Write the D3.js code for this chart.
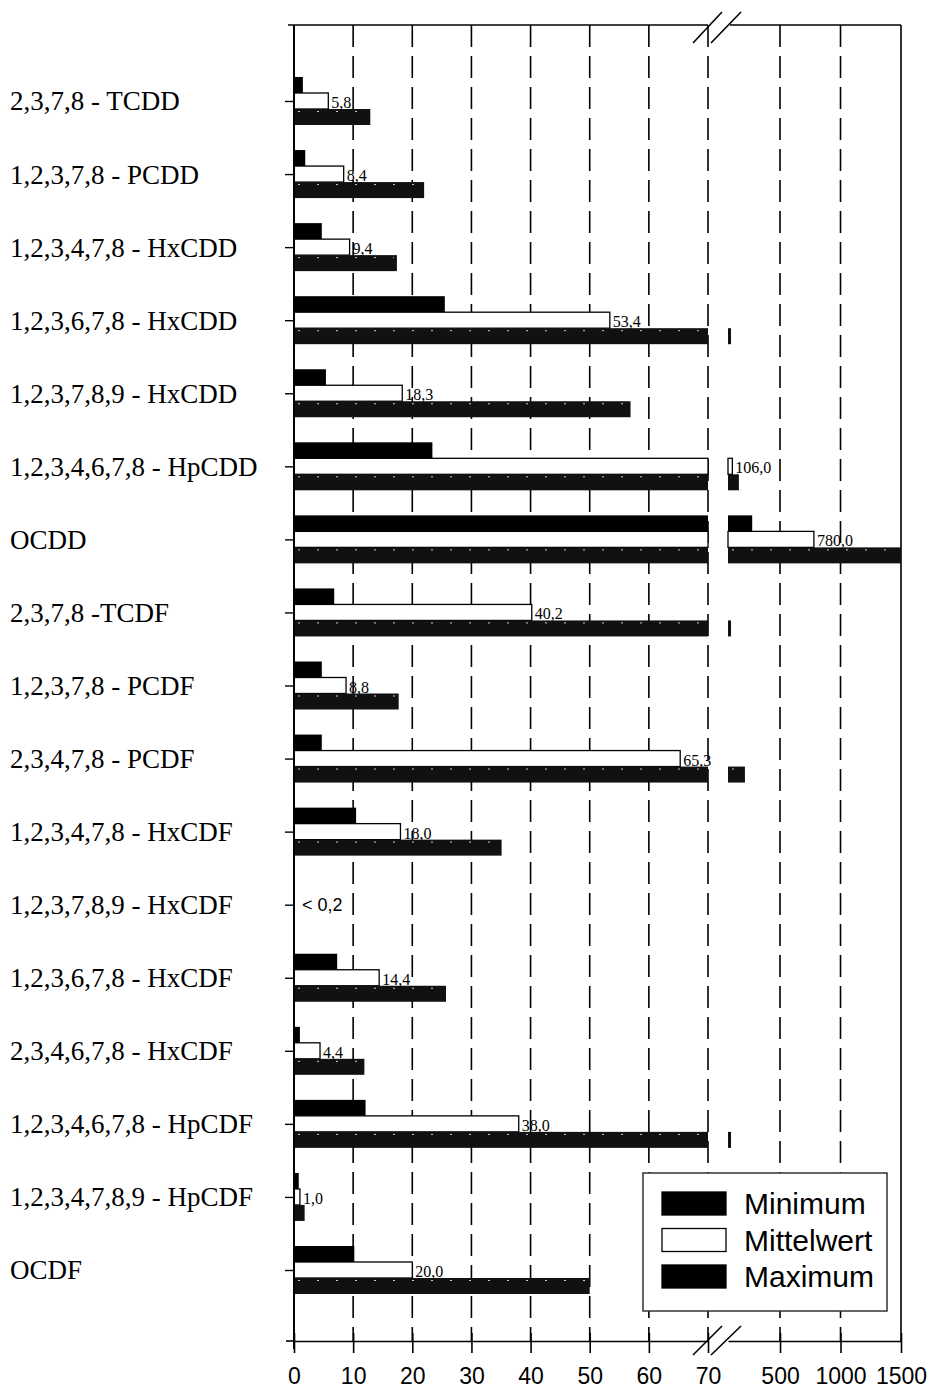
<!DOCTYPE html>
<html>
<head>
<meta charset="utf-8">
<script src="https://cdn.jsdelivr.net/npm/d3@7"></script>
<style>
  body { margin: 0; background: #fff; }
  svg { display: block; }
</style>
</head>
<body>
<div id="chart"></div>
<script>
const categories = [
  '2,3,7,8 - TCDD', '1,2,3,7,8 - PCDD', '1,2,3,4,7,8 - HxCDD', '1,2,3,6,7,8 - HxCDD',
  '1,2,3,7,8,9 - HxCDD', '1,2,3,4,6,7,8 - HpCDD', 'OCDD', '2,3,7,8 -TCDF',
  '1,2,3,7,8 - PCDF', '2,3,4,7,8 - PCDF', '1,2,3,4,7,8 - HxCDF', '1,2,3,7,8,9 - HxCDF',
  '1,2,3,6,7,8 - HxCDF', '2,3,4,6,7,8 - HxCDF', '1,2,3,4,6,7,8 - HpCDF', '1,2,3,4,7,8,9 - HpCDF',
  'OCDF'
]
const minimum    = [1.5, 1.9, 4.7, 25.5, 5.4, 23.4, 270, 6.8, 4.7, 4.7, 10.5, null, 7.3, 1.0, 12.1, 0.8, 10.2]
const mittelwert = [5.8, 8.4, 9.4, 53.4, 18.3, 106.0, 780.0, 40.2, 8.8, 65.3, 18.0, null, 14.4, 4.4, 38.0, 1.0, 20.0]
const maximum    = [12.9, 22.0, 17.4, 95, 56.9, 160, 1500, 95, 17.7, 210, 35.1, null, 25.7, 11.9, 95, 1.8, 50.0]
const seriesNames = ['Minimum', 'Mittelwert', 'Maximum']
const lowTicks = [0, 10, 20, 30, 40, 50, 60, 70]
const highTicks = [500, 1000, 1500]
const belowLimit = '< 0,2'

const w = 931, h = 1392
const yTop = 25, yBottom = 1341
const xLeft = 294, breakLeft = 708, breakRight = 728, xRight = 901

const svg = d3.select('#chart').append('svg')
  .attr('width', w)
  .attr('height', h)

/* broken x axis: two linear pieces */
const xLow = d3.scaleLinear().domain([0, 70]).range([xLeft, breakLeft])
const xHigh = d3.scaleLinear().domain([70, 1500]).range([breakRight, xRight])
const xEnd = v => v <= 70 ? xLow(v) : xHigh(v)

const y = d3.scalePoint().domain(categories).range([101, 1270])
const inner = d3.scaleBand().domain(seriesNames).range([-24, 24])

const table = categories.map((c, i) => ({
  cat: c,
  values: [minimum[i], mittelwert[i], maximum[i]]
}))

/* gridlines */
const grid = svg.append('g').attr('class', 'grid')
  .attr('stroke', '#000').attr('stroke-width', 1.6)

grid.selectAll('line.low')
  .data(lowTicks.filter(t => t > 0))
  .enter().append('line')
  .attr('x1', d => xLow(d)).attr('x2', d => xLow(d))
  .attr('y1', yTop).attr('y2', yBottom)
  .attr('stroke-dasharray', '22,9')

grid.selectAll('line.high')
  .data(highTicks)
  .enter().append('line')
  .attr('x1', d => xHigh(d)).attr('x2', d => xHigh(d))
  .attr('y1', yTop).attr('y2', yBottom)
  .attr('stroke-dasharray', d => d === 1500 ? null : '22,9')

/* top frame line with break */
svg.append('line').attr('x1', 288).attr('x2', breakLeft).attr('y1', yTop).attr('y2', yTop)
  .attr('stroke', '#000').attr('stroke-width', 1.6)
svg.append('line').attr('x1', breakRight + 2).attr('x2', xRight).attr('y1', yTop).attr('y2', yTop)
  .attr('stroke', '#000').attr('stroke-width', 1.6)

/* bars */
const bars = svg.append('g').attr('class', 'bars')

table.forEach(row => {
  row.values.forEach((v, j) => {
    if (v == null) return
    const name = seriesNames[j]
    const y0 = y(row.cat) + inner(name)
    const bh = inner.bandwidth()
    const pieces = [[xLow(0), xLow(Math.min(v, 70))]]
    if (v > 70) pieces.push([xHigh(70), xHigh(v)])
    pieces.forEach(p => {
      const r = bars.append('rect')
        .attr('x', p[0])
        .attr('y', y0)
        .attr('width', Math.max(p[1] - p[0], 0.8))
        .attr('height', bh)
      if (name === 'Mittelwert') {
        r.attr('fill', '#fff').attr('stroke', '#000').attr('stroke-width', 1.3)
      } else {
        r.attr('fill', name === 'Minimum' ? '#000' : '#111')
      }
      if (name === 'Maximum' && p[1] - p[0] > 12) {
        bars.append('line')
          .attr('x1', p[0] + 4).attr('x2', p[1] - 3)
          .attr('y1', y0 + 2.5).attr('y2', y0 + 2.5)
          .attr('stroke', '#fff').attr('stroke-width', 0.8)
          .attr('stroke-dasharray', '2,17')
      }
    })
  })
})

/* Mittelwert labels */
const fmt = d3.format('.1f')
svg.append('g').attr('class', 'labels')
  .selectAll('text')
  .data(table.filter(d => d.values[1] != null))
  .enter().append('text')
  .attr('x', d => xEnd(d.values[1]) + 3)
  .attr('y', d => y(d.cat) + 7)
  .attr('font-family', 'Liberation Serif, serif')
  .attr('font-size', 16)
  .text(d => fmt(d.values[1]).replace('.', ','))

svg.append('text')
  .attr('x', 302)
  .attr('y', y(categories[11]) + 6)
  .attr('font-family', 'Liberation Sans, Arial, sans-serif')
  .attr('font-size', 18)
  .text(belowLimit)

/* left axis */
const yAxis = d3.axisLeft(y).tickSize(9).tickSizeOuter(0).tickFormat('')
const gy = svg.append('g').attr('transform', `translate(${xLeft},0)`).call(yAxis)
gy.select('.domain').remove()
gy.selectAll('.tick line').attr('stroke-width', 1.4)
svg.append('line').attr('x1', xLeft).attr('x2', xLeft).attr('y1', yTop).attr('y2', yBottom + 8)
  .attr('stroke', '#000').attr('stroke-width', 2)

/* category labels */
svg.append('g').attr('class', 'cats')
  .selectAll('text')
  .data(categories)
  .enter().append('text')
  .attr('x', 10)
  .attr('y', d => y(d))
  .attr('dy', '0.35em')
  .attr('font-family', 'Liberation Serif, serif')
  .attr('font-size', 27)
  .text(d => d)

/* bottom axis, two pieces */
const axLow = d3.axisBottom(xLow).tickValues(lowTicks).tickSize(12).tickSizeOuter(0).tickPadding(15)
const axHigh = d3.axisBottom(xHigh).tickValues(highTicks).tickSize(12).tickSizeOuter(0).tickPadding(15)
  .tickFormat(d3.format('d'))

;[axLow, axHigh].forEach(ax => {
  const g = svg.append('g').attr('transform', `translate(0,${yBottom})`).call(ax)
  g.select('.domain').attr('stroke-width', 1.6)
  g.selectAll('.tick line').attr('y1', -8).attr('stroke-width', 1.6)
  g.selectAll('.tick text')
    .attr('font-family', 'Liberation Sans, Arial, sans-serif')
    .attr('font-size', 23)
    .attr('fill', '#000')
})
svg.append('line').attr('x1', 286).attr('x2', xLeft).attr('y1', yBottom).attr('y2', yBottom)
  .attr('stroke', '#000').attr('stroke-width', 1.6)

/* break marks */
const breaks = svg.append('g').attr('stroke', '#000').attr('stroke-width', 1.6)
;[[43, 12], [1355, 1326]].forEach(([ya, yb]) => {
  breaks.append('line').attr('x1', 693).attr('y1', ya).attr('x2', 722).attr('y2', yb)
  breaks.append('line').attr('x1', 711).attr('y1', ya).attr('x2', 741).attr('y2', yb)
})

/* legend */
const legend = svg.append('g').attr('class', 'legend')
legend.append('rect')
  .attr('x', 643).attr('y', 1173).attr('width', 244).attr('height', 138)
  .attr('fill', '#fff').attr('stroke', '#333').attr('stroke-width', 1.5)

const legendY = d3.scalePoint().domain(seriesNames).range([1192, 1265])
seriesNames.forEach(name => {
  legend.append('rect')
    .attr('x', 662).attr('y', legendY(name))
    .attr('width', 64).attr('height', 23)
    .attr('fill', name === 'Mittelwert' ? '#fff' : '#000')
    .attr('stroke', '#000').attr('stroke-width', 1.3)
  legend.append('text')
    .attr('x', 744).attr('y', legendY(name) + 22)
    .attr('font-family', 'Liberation Sans, Arial, sans-serif')
    .attr('font-size', 30)
    .text(name)
})
</script>
</body>
</html>
